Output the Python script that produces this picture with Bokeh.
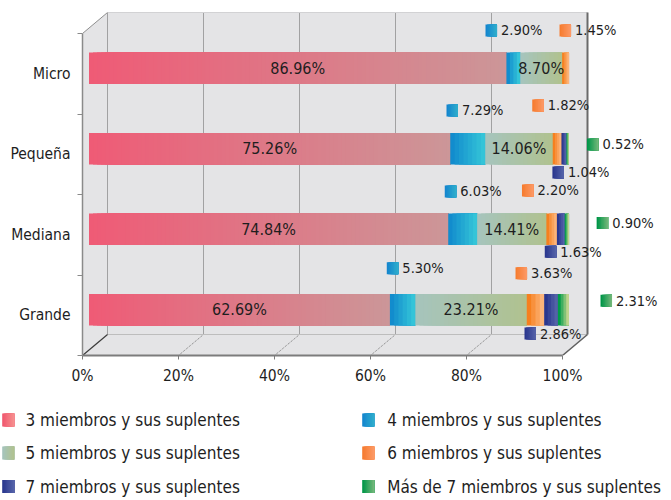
from bokeh.plotting import figure
from bokeh.models import Range1d, FixedTicker, LinearAxis
from bokeh.layouts import column
from bokeh.embed import file_html
from bokeh.resources import INLINE
from bokeh.core.properties import value

# ---------------- data ----------------
categories = ["Micro", "Pequeña", "Mediana", "Grande"]
series_names = [
    "3 miembros y sus suplentes",
    "4 miembros y sus suplentes",
    "5 miembros y sus suplentes",
    "6 miembros y sus suplentes",
    "7 miembros y sus suplentes",
    "Más de 7 miembros y sus suplentes",
]
s3 = [86.96, 75.26, 74.84, 62.69]
s4 = [2.90, 7.29, 6.03, 5.30]
s5 = [8.70, 14.06, 14.41, 23.21]
s6 = [1.45, 1.82, 2.20, 3.63]
s7 = [0.00, 1.04, 1.63, 2.86]
s8 = [0.00, 0.52, 0.90, 2.31]
x_ticks = [0, 20, 40, 60, 80, 100]
x_tick_labels = ["0%", "20%", "40%", "60%", "80%", "100%"]

# ---------------- styles / layout ----------------
FONT = "'DejaVu Sans Condensed', 'DejaVu Sans', sans-serif"
TXT = "#1e1e1e"
bar_grad = [
    ((239, 91, 118), (204, 150, 152)),
    ((18, 140, 205), (52, 196, 216)),
    ((166, 196, 188), (176, 194, 144)),
    ((246, 128, 30), (252, 180, 122)),
    ((42, 55, 142), (84, 98, 168)),
    ((0, 156, 74), (190, 212, 140)),
]
key_grad = [
    ((240, 88, 110), (246, 142, 142)),
    ((20, 134, 206), (46, 172, 204)),
    ((166, 196, 188), (176, 194, 144)),
    ((246, 124, 48), (252, 152, 100)),
    ((42, 55, 142), (84, 98, 168)),
    ((0, 150, 72), (112, 182, 120)),
]
# label placement for outside labels: pixel offsets of the key square from the segment centre
outside_offsets = {
    1: [(-22.1, -37.8), (-15.5, -38.3), (-12.2, -37.8), (-10.1, -41.5)],
    3: [(-0.3, -37.8), (-19.1, -43.3), (-23.9, -38.8), (-14.2, -36.5)],
    4: [None, (-5.8, 23.7), (-10.3, 22.5), (-20.8, 23.8)],
    5: [None, (25.0, -4.3), (35.5, -6.3), (42.8, -9.0)],
}
inside_series = [0, 2]

PX_X = 4.8      # px per percent
PX_Y = 40.25    # px per y unit (half a category)
LEFT = 82
FRAME_W, FRAME_H = 589, 355
BOTTOM = 50
TOTAL_W, TOTAL_H = LEFT + FRAME_W, 500
MAIN_H = FRAME_H + BOTTOM
DEPTH_X = 25 / PX_X
DEPTH_Y = 21 / PX_Y
BAR_D = 0.26
BAR_DX, BAR_DY = BAR_D * DEPTH_X, BAR_D * DEPTH_Y
BAR_H = 31.5 / PX_Y


def lerp(c1, c2, t):
    return "#%02x%02x%02x" % tuple(int(round(a + (b - a) * t)) for a, b in zip(c1, c2))


def grad_quads(p, left, right, bottom, top, c1, c2, n):
    ls, rs, bs, ts, cs = [], [], [], [], []
    for j in range(n):
        ls.append(left + (right - left) * j / n)
        rs.append(right)
        bs.append(bottom)
        ts.append(top)
        cs.append(lerp(c1, c2, j / max(n - 1, 1)))
    p.quad(left=ls, right=rs, bottom=bs, top=ts, fill_color=cs, line_color=None)


p = figure(width=TOTAL_W, height=MAIN_H, frame_width=FRAME_W, frame_height=FRAME_H,
           x_range=Range1d(0, FRAME_W / PX_X), y_range=Range1d(0, FRAME_H / PX_Y),
           output_backend="svg", toolbar_location=None, x_axis_type=None,
           y_axis_type=None, min_border=0, min_border_left=LEFT,
           min_border_bottom=BOTTOM, min_border_right=0, min_border_top=0)
p.frame_align = False
p.outline_line_color = None
p.background_fill_color = "white"
p.border_fill_color = "white"

n_cat = len(categories)
cat_y = [2 * (n_cat - 1 - i) + 1 for i in range(n_cat)]
top_b = 2 * n_cat

# walls / floor
p.patch(x=[0, DEPTH_X, 100 + DEPTH_X, 100 + DEPTH_X, 100, 0],
        y=[top_b, top_b + DEPTH_Y, top_b + DEPTH_Y, DEPTH_Y, 0, 0],
        fill_color="#e4e4e6", line_color=None)
grid_p = x_ticks[:-1]
p.segment(x0=[t + DEPTH_X for t in grid_p], y0=[DEPTH_Y] * len(grid_p),
          x1=[t + DEPTH_X for t in grid_p], y1=[top_b + DEPTH_Y] * len(grid_p),
          line_color="#5e5e5e", line_width=1, line_dash="1 1")
p.segment(x0=[t + DEPTH_X for t in grid_p[1:]], y0=[DEPTH_Y] * len(grid_p[1:]),
          x1=grid_p[1:], y1=[0] * len(grid_p[1:]),
          line_color="#7a7a7a", line_width=1, line_dash="1 1")
p.segment(x0=[DEPTH_X], y0=[DEPTH_Y], x1=[100 + DEPTH_X], y1=[DEPTH_Y],
          line_color="#bdbdbd", line_width=1)
p.segment(x0=[DEPTH_X], y0=[top_b + DEPTH_Y], x1=[100 + DEPTH_X], y1=[top_b + DEPTH_Y],
          line_color="#d2d2d4", line_width=1)
p.segment(x0=[0, 0, 100], y0=[top_b, 0, 0],
          x1=[DEPTH_X, DEPTH_X, 100 + DEPTH_X], y1=[top_b + DEPTH_Y, DEPTH_Y, DEPTH_Y],
          line_color=["#8e8e8e", "#3c3c3c", "#606060"], line_width=[1, 1.2, 1.5])
p.segment(x0=[100 + DEPTH_X], y0=[DEPTH_Y], x1=[100 + DEPTH_X], y1=[top_b + DEPTH_Y],
          line_color="#6a6a6a", line_width=2)

# bars
series = [s3, s4, s5, s6, s7, s8]
for i in range(n_cat):
    cum = 0.0
    yc = cat_y[i] + BAR_DY
    for k, vals in enumerate(series):
        v = vals[i]
        if v > 0:
            grad_quads(p, cum + BAR_DX, cum + v + BAR_DX, yc - BAR_H / 2, yc + BAR_H / 2,
                       bar_grad[k][0], bar_grad[k][1], max(4, int(v * 1.2)))
        cum += v

# inside labels
ix, iy, it = [], [], []
for k in inside_series:
    for i in range(n_cat):
        start = sum(series[m][i] for m in range(k))
        ix.append(start + series[k][i] / 2 + BAR_DX)
        iy.append(cat_y[i] + BAR_DY)
        it.append(f"{series[k][i]:.2f}%")
p.text(x=ix, y=iy, text=it, text_align="center", text_baseline="middle",
       text_font=value(FONT), text_font_size="16px", text_color=TXT)

# outside labels with key squares
SQ_W, SQ_H = 11.5 / PX_X, 12 / PX_Y
ox, oy, ot = [], [], []
for k, offs in outside_offsets.items():
    for i in range(n_cat):
        v = series[k][i]
        if v <= 0 or offs[i] is None:
            continue
        start = sum(series[m][i] for m in range(k))
        cx = start + v / 2 + BAR_DX + offs[i][0] / PX_X
        cy = cat_y[i] + BAR_DY - offs[i][1] / PX_Y
        grad_quads(p, cx - SQ_W / 2, cx + SQ_W / 2, cy - SQ_H / 2, cy + SQ_H / 2,
                   key_grad[k][0], key_grad[k][1], 8)
        ox.append(cx + 9.8 / PX_X)
        oy.append(cy)
        ot.append(f"{v:.2f}%")
p.text(x=ox, y=oy, text=ot, text_align="left", text_baseline="middle",
       text_font=value(FONT), text_font_size="14.5px", text_color=TXT)

# axes
xaxis = LinearAxis(ticker=FixedTicker(ticks=x_ticks), bounds=(0, 100),
                   major_label_overrides={t: l for t, l in zip(x_ticks, x_tick_labels)})
xaxis.axis_line_color = "#7c7c7c"
xaxis.axis_line_width = 2
xaxis.major_tick_line_color = "#7c7c7c"
xaxis.major_tick_out = 4
xaxis.major_tick_in = 0
xaxis.minor_tick_line_color = None
xaxis.major_label_standoff = 7
xaxis.major_label_text_font = FONT
xaxis.major_label_text_font_size = "15.5px"
xaxis.major_label_text_color = TXT
p.add_layout(xaxis, "below")

yaxis = LinearAxis(ticker=FixedTicker(ticks=cat_y, minor_ticks=list(range(0, top_b + 1, 2))),
                   bounds=(0, top_b),
                   major_label_overrides={cat_y[i]: categories[i] for i in range(n_cat)})
yaxis.axis_line_color = "#8a8a8a"
yaxis.axis_line_width = 1.5
yaxis.major_tick_line_color = None
yaxis.major_tick_out = 5
yaxis.major_tick_in = 0
yaxis.minor_tick_line_color = "#8a8a8a"
yaxis.minor_tick_out = 5
yaxis.minor_tick_in = 0
yaxis.major_label_standoff = 7
yaxis.major_label_text_font = FONT
yaxis.major_label_text_font_size = "15.5px"
yaxis.major_label_text_color = TXT
p.add_layout(yaxis, "left")

# legend panel
LH = TOTAL_H - MAIN_H
lg = figure(width=TOTAL_W, height=LH, x_range=Range1d(0, TOTAL_W),
            y_range=Range1d(0, LH), output_backend="svg", toolbar_location=None,
            x_axis_type=None, y_axis_type=None, min_border=0)
lg.frame_align = False
lg.outline_line_color = None
lg.grid.visible = False
col_sq = [1.7, 361.7]
col_tx = [25, 386.7]
row_y = [419.5 - MAIN_H, 452.5 - MAIN_H, 486 - MAIN_H]
lx, ly, lt = [], [], []
for idx, name in enumerate(series_names):
    r, c = idx // 2, idx % 2
    yc = LH - row_y[r]
    grad_quads(lg, col_sq[c], col_sq[c] + 12, yc - 6.5, yc + 6.5,
               key_grad[idx][0], key_grad[idx][1], 10)
    lx.append(col_tx[c])
    ly.append(yc)
    lt.append(name)
lg.text(x=lx, y=ly, text=lt, text_align="left", text_baseline="middle",
        text_font=value(FONT), text_font_size="17px", text_color=TXT)

layout = column(p, lg, spacing=0)
open("out.html", "w").write(file_html(layout, INLINE))
